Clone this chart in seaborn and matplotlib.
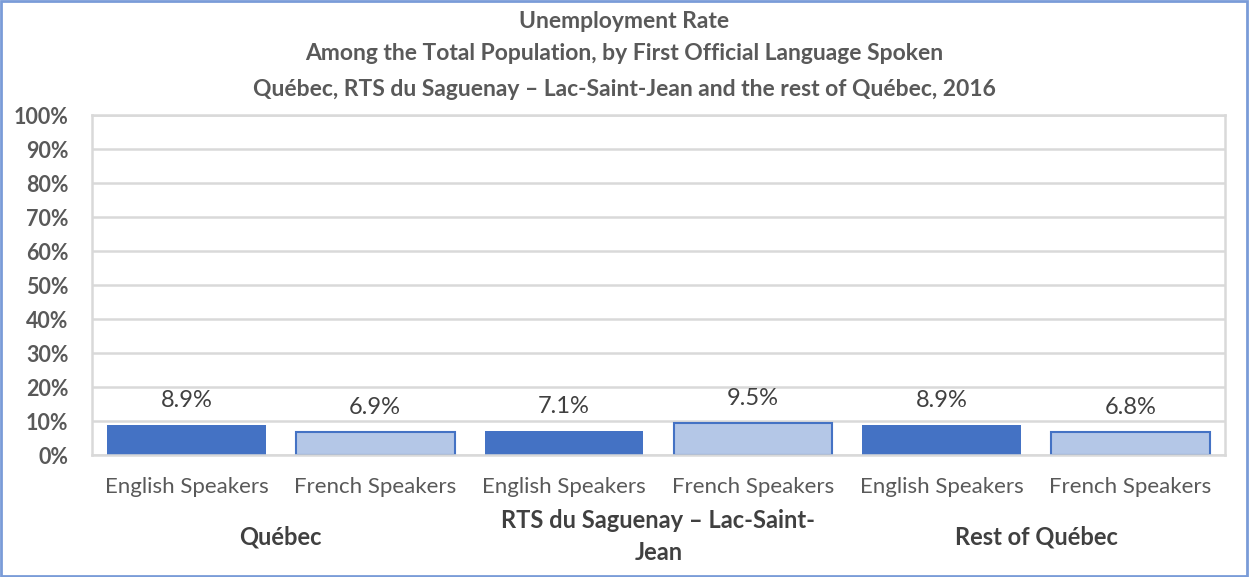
import pandas as pd
import seaborn as sns
import matplotlib.pyplot as plt
from matplotlib.patches import Rectangle

# Data
regions = ['Québec', 'RTS du Saguenay – Lac-Saint-\nJean', 'Rest of Québec']
languages = ['English Speakers', 'French Speakers']
rates = [8.9, 6.9, 7.1, 9.5, 8.9, 6.8]

rows = []
for i, r in enumerate(regions):
    for j, lang in enumerate(languages):
        rows.append({'slot': f'{i}-{j}', 'region': r, 'language': lang, 'rate': rates[i * 2 + j]})
df = pd.DataFrame(rows)

sns.set_theme(style='white')
plt.rcParams['font.family'] = ['Lato', 'DejaVu Sans']

fig = plt.figure(figsize=(12.49, 5.77), dpi=100)
ax = fig.add_axes([92 / 1249, 1 - 455 / 577, (1225 - 92) / 1249, (455 - 115) / 577])

blue = '#4472C4'
light = '#B4C7E7'
palette = {'English Speakers': blue, 'French Speakers': light}
sns.barplot(data=df, x='slot', y='rate', hue='language', palette=palette,
            dodge=False, width=0.84, legend=False, ax=ax, saturation=1)

# light bars get a blue outline
for patch in ax.patches:
    fc = patch.get_facecolor()
    if fc[2] > 0.85:
        patch.set_edgecolor(blue)
        patch.set_linewidth(1.5)
    else:
        patch.set_linewidth(0)

ax.set_ylim(0, 100)
ax.set_xlim(-0.5, 5.5)
ax.set_yticks(range(0, 101, 10))
ax.set_yticklabels([f'{v}%' for v in range(0, 101, 10)], fontsize=15.5, fontweight='bold', color='#595959')
ax.set_xticks(range(6))
ax.set_xticklabels(df['language'], fontsize=16, color='#595959')
ax.tick_params(axis='x', length=0, pad=16)
ax.tick_params(axis='y', length=0, pad=17)
ax.set_xlabel('')
ax.set_ylabel('')
ax.yaxis.grid(True, color='#D9D9D9', linewidth=1.8)
ax.set_axisbelow(True)
for s in ax.spines.values():
    s.set_color('#D9D9D9')
    s.set_linewidth(1.8)

for i, v in enumerate(df['rate']):
    ax.text(i, v + 4, f'{v}%', ha='center', va='bottom', fontsize=17, color='#404040')

# group labels
for i, r in enumerate(regions):
    ax.text(i * 2 + 0.5, -24, r, ha='center', va='center', fontsize=17, fontweight='bold',
            color='#404040', linespacing=1.45)

title_lines = ['Unemployment Rate',
               'Among the Total Population, by First Official Language Spoken',
               'Québec, RTS du Saguenay – Lac-Saint-Jean and the rest of Québec, 2016']
for y, t in zip([22, 54, 89], title_lines):
    fig.text(0.5, 1 - y / 577, t, ha='center', va='center', fontsize=16.5, fontweight='bold', color='#595959')

fig.patches.append(Rectangle((0.001, 0.002), 0.997, 0.996, transform=fig.transFigure, fill=False,
                             edgecolor='#7A9CD8', linewidth=2))

fig.savefig('out.png', dpi=100)
